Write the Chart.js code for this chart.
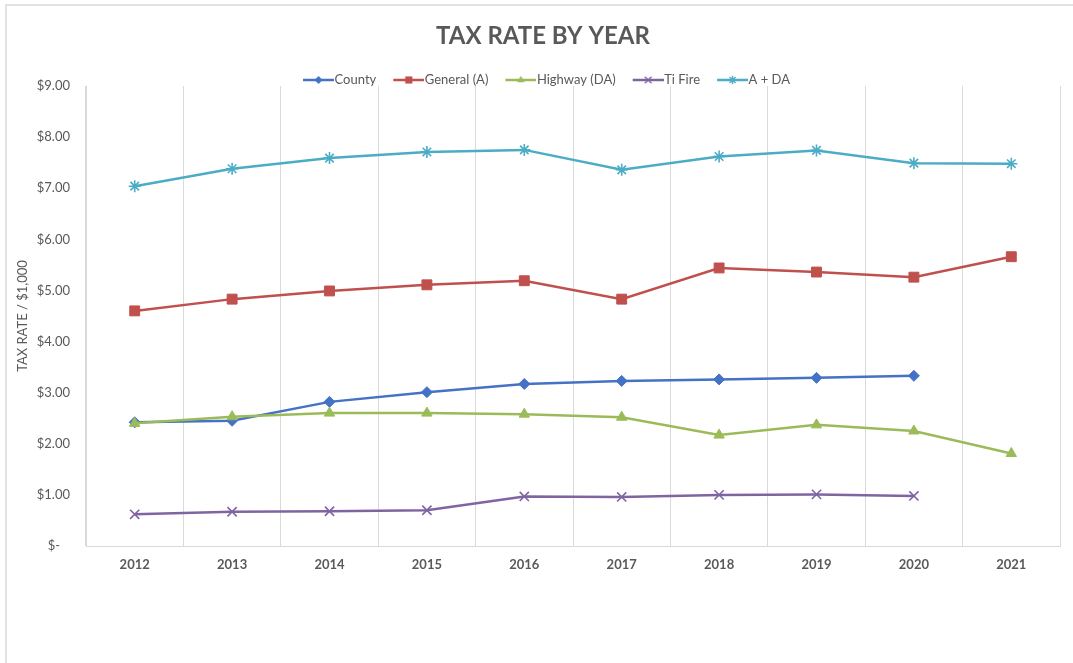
<!DOCTYPE html>
<html><head><meta charset="utf-8">
<script src="https://cdn.jsdelivr.net/npm/chart.js@4/dist/chart.umd.min.js"></script>
<style>
html,body{margin:0;padding:0;background:#fff;}
#wrap{position:relative;width:1073px;height:663px;overflow:hidden;background:#fff;}
#frame{position:absolute;left:5px;top:4px;width:1200px;height:800px;border-top:2px solid #e2e2e2;border-left:2px solid #e2e2e2;}
canvas{position:absolute;left:0;top:0;}
</style></head><body>
<div id="wrap"><div id="frame"></div><canvas id="c" width="1073" height="663"></canvas></div>
<script>
const years = ['2012','2013','2014','2015','2016','2017','2018','2019','2020','2021'];
const county    = [2.42, 2.45, 2.82, 3.01, 3.17, 3.23, 3.26, 3.29, 3.33, null];
const generalA  = [4.60, 4.83, 4.99, 5.11, 5.19, 4.83, 5.44, 5.36, 5.26, 5.66];
const highwayDA = [2.40, 2.53, 2.60, 2.60, 2.58, 2.52, 2.17, 2.37, 2.25, 1.81];
const tiFire    = [0.62, 0.67, 0.68, 0.70, 0.97, 0.96, 1.00, 1.01, 0.98, null];
const aPlusDA   = [7.04, 7.38, 7.59, 7.71, 7.75, 7.36, 7.62, 7.74, 7.49, 7.48];
const seriesNames = ['County', 'General (A)', 'Highway (DA)', 'Ti Fire', 'A + DA'];
const titleText = 'TAX RATE BY YEAR';
const yTitleText = 'TAX RATE / $1,000';

const colors = ['#4472C4', '#C0504D', '#9BBB59', '#8064A2', '#4BACC6'];
const styles = ['rectRot', 'rect', 'triangle', 'crossRot', 'star'];
const radii  = [5.5, 7, 6, 6.5, 6];
const values = [county, generalA, highwayDA, tiFire, aPlusDA];
const TXT = '#595959';

function marker(ctx, style, x, y, r) {
  ctx.beginPath();
  if (style === 'rectRot') {
    ctx.moveTo(x, y - r); ctx.lineTo(x + r, y); ctx.lineTo(x, y + r); ctx.lineTo(x - r, y); ctx.closePath(); ctx.fill();
  } else if (style === 'rect') {
    const s = r * Math.SQRT1_2; ctx.fillRect(x - s, y - s, 2 * s, 2 * s);
  } else if (style === 'triangle') {
    ctx.moveTo(x, y - r); ctx.lineTo(x + r * 0.87, y + r * 0.5); ctx.lineTo(x - r * 0.87, y + r * 0.5); ctx.closePath(); ctx.fill();
  } else if (style === 'crossRot') {
    const s = r * Math.SQRT1_2;
    ctx.moveTo(x - s, y - s); ctx.lineTo(x + s, y + s); ctx.moveTo(x + s, y - s); ctx.lineTo(x - s, y + s); ctx.stroke();
  } else if (style === 'star') {
    const s = r * Math.SQRT1_2;
    ctx.moveTo(x - s, y - s); ctx.lineTo(x + s, y + s); ctx.moveTo(x + s, y - s); ctx.lineTo(x - s, y + s);
    ctx.moveTo(x, y - r); ctx.lineTo(x, y + r); ctx.stroke();
  }
}
function legendIcon(i) {
  const c = document.createElement('canvas'); c.width = 44; c.height = 14;
  const ctx = c.getContext('2d');
  ctx.strokeStyle = colors[i]; ctx.fillStyle = colors[i];
  ctx.lineWidth = 2.5; ctx.beginPath(); ctx.moveTo(13, 7); ctx.lineTo(44, 7); ctx.stroke();
  ctx.lineWidth = 1.4;
  marker(ctx, styles[i], 28.5, 7, radii[i] * 0.72);
  return c;
}
const icons = seriesNames.map((n, i) => legendIcon(i));

const datasets = seriesNames.map((name, i) => ({
  label: name,
  data: values[i],
  borderColor: colors[i],
  backgroundColor: colors[i],
  borderWidth: 2.5,
  pointStyle: styles[i],
  pointRadius: radii[i],
  pointHoverRadius: radii[i],
  pointBorderWidth: (styles[i] === 'crossRot' || styles[i] === 'star') ? 1.6 : 1,
  pointBackgroundColor: colors[i],
  pointBorderColor: colors[i],
  tension: 0,
  spanGaps: false,
  order: 5 - i
}));

new Chart(document.getElementById('c'), {
  type: 'line',
  data: { labels: years, datasets },
  options: {
    responsive: false,
    animation: false,
    devicePixelRatio: 1,
    layout: { padding: { left: 26, right: 13, top: 0, bottom: 0 } },
    plugins: {
      title: {
        display: true, text: titleText, color: TXT,
        font: { family: 'Lato', size: 24, weight: 'bold', lineHeight: 1.2 },
        padding: { top: 21.6, bottom: 13.1 }
      },
      legend: {
        display: true, position: 'top', align: 'center', maxHeight: 22.5,
        labels: {
          color: TXT, font: { family: 'Lato', size: 13 }, padding: 10,
          usePointStyle: true, pointStyleWidth: 32,
          generateLabels: (chart) => chart.data.datasets.map((ds, i) => ({
            text: ds.label, pointStyle: icons[i], fillStyle: colors[i], strokeStyle: colors[i],
            lineWidth: 0, hidden: false, datasetIndex: i, fontColor: TXT
          }))
        }
      },
      tooltip: { enabled: false }
    },
    scales: {
      x: {
        offset: true,
        grid: { display: true, offset: true, color: '#d9d9d9', lineWidth: 1, drawTicks: false },
        border: { display: true, color: '#d9d9d9', width: 1 },
        ticks: { color: TXT, font: { family: 'Lato', size: 13, weight: 'bold' }, padding: 11, maxRotation: 0, autoSkip: false },
        afterFit: (s) => { s.height = 117; }
      },
      y: {
        min: 0, max: 9,
        grid: { display: false, drawTicks: false },
        border: { display: true, color: '#d9d9d9', width: 1 },
        ticks: {
          stepSize: 1, color: TXT, font: { family: 'Lato', size: 13 }, padding: 16,
          callback: (v) => v === 0 ? '$-   ' : '$' + Number(v).toFixed(2)
        },
        title: {
          display: true, text: yTitleText, color: TXT,
          font: { family: 'Lato', size: 13, lineHeight: 1.2 }, padding: { top: -10.8, bottom: 0 }
        },
        afterFit: (s) => { s.width = 60; }
      }
    }
  }
});
</script>
</body></html>
